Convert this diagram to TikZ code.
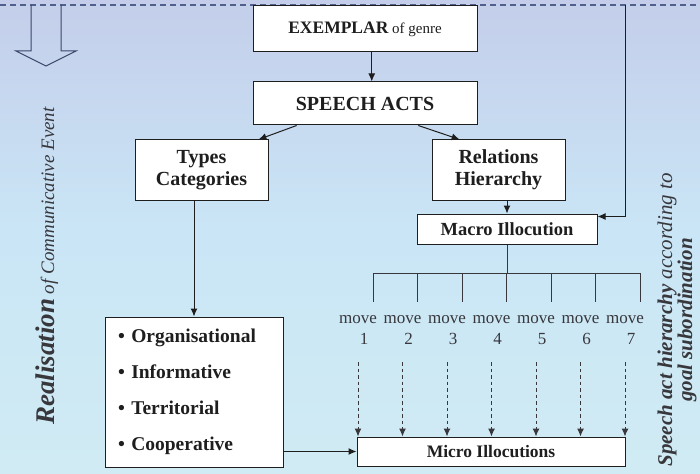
\documentclass[tikz,border=0pt]{standalone}
\usepackage{fontspec}
\setmainfont{Liberation Serif}
\usetikzlibrary{arrows.meta,calc}
\definecolor{bgtop}{RGB}{196,206,234}
\definecolor{bgmid}{RGB}{202,230,246}
\definecolor{bgbot}{RGB}{208,235,243}
\definecolor{dashc}{RGB}{80,95,140}
\definecolor{arrc}{RGB}{60,70,105}
\definecolor{inkc}{RGB}{30,30,30}
\definecolor{softc}{RGB}{55,55,60}
\begin{document}
\begin{tikzpicture}[x=1pt,y=-1pt,
  box/.style={draw=inkc, fill=white, line width=1pt, inner sep=0pt, align=center, text=inkc},
  conn/.style={draw=inkc, line width=1pt, -{Latex[length=8pt,width=7pt]}},
  dashconn/.style={draw=softc, line width=1pt, dash pattern=on 3.5pt off 3pt, -{Latex[length=8pt,width=7pt]}},
  treeline/.style={draw=softc, line width=1pt},
  movefont/.style={inner sep=0pt, text=softc, font=\fontsize{17}{19}\selectfont},
  sidetext/.style={inner sep=0pt, text=softc}]
\shade[top color=bgtop, bottom color=bgbot, middle color=bgmid] (0,0) rectangle (700,473);
\useasboundingbox (0,0) rectangle (700,473);
% top dashed line
\coordinate (dl) at (0,5);
\coordinate (dr) at (700,5);
\draw[dashc, line width=1.2pt, dash pattern=on 6pt off 4pt] (dl) -- (dr);
% hollow block arrow
\draw[arrc, line width=1pt, line join=miter] (31,5) -- (31,51) -- (16,51) -- (46,66) -- (76,51) -- (61,51) -- (61,5);
% boxes
\node[box, minimum width=224, minimum height=46] (ex) at (365,29)
  {{\fontsize{17.5}{20}\selectfont\bfseries EXEMPLAR}{\fontsize{15}{18}\selectfont{} of genre}};
\node[box, minimum width=224, minimum height=43, font=\fontsize{20}{22}\selectfont\bfseries] (sa) at (365,103.5) {SPEECH ACTS};
\node[box, minimum width=133, minimum height=60, font=\fontsize{20}{22}\selectfont\bfseries] (tc) at (201.5,170) {Types\\Categories};
\node[box, minimum width=133, minimum height=60, font=\fontsize{20}{22}\selectfont\bfseries] (rh) at (498.5,170) {Relations\\Hierarchy};
\node[box, minimum width=180, minimum height=30, font=\fontsize{18.5}{20}\selectfont\bfseries] (mac) at (507,229) {Macro Illocution};
\node[box, minimum width=178, minimum height=150, text width=152, align=left, font=\fontsize{19.5}{36}\selectfont\bfseries] (lb) at (194,392)
  {\textbullet\ Organisational\\\textbullet\ Informative\\\textbullet\ Territorial\\\textbullet\ Cooperative};
\node[box, minimum width=268, minimum height=29, font=\fontsize{17.5}{19}\selectfont\bfseries] (mic) at (491,451.5) {Micro Illocutions};
% connectors
\draw[conn] ($(ex.south west)!0.53!(ex.south east)$) -- ($(sa.north west)!0.53!(sa.north east)$);
\draw[conn] ($(sa.south west)!0.196!(sa.south east)$) -- ($(tc.north west)!0.925!(tc.north east)$);
\draw[conn] ($(sa.south west)!0.737!(sa.south east)$) -- ($(rh.north west)!0.21!(rh.north east)$);
\draw[conn] (rh.south -| mac.north) -- (mac.north);
\draw[conn] (tc.south -| lb.north) -- (lb.north);
\draw[conn] (mic.west -| lb.east) -- (mic.west);
\coordinate (fb) at (625,5);
\draw[conn] (fb) |- ($(mac.north east)+(0,3)$);
% tree
\coordinate (bL) at (373,273);
\coordinate (bR) at (640,273);
\draw[treeline] (mac.south) -- (mac.south |- bL);
\draw[treeline] (bL) -- (bR);
\foreach \i in {1,...,7} {
  \pgfmathsetmacro\tx{373+44.5*(\i-1)}
  \coordinate (t\i) at (\tx,273);
  \draw[treeline] (t\i) -- ++(0,29);
  \pgfmathsetmacro\mx{358+44.5*(\i-1)}
  \node[movefont] (m\i) at (\mx,320) {move};
  \node[movefont] (n\i) at (\mx+6,339) {\i};
  \coordinate (d\i) at (\mx,362);
  \draw[dashconn] (d\i) -- (d\i |- mic.north);
}
% side texts
\node[sidetext, rotate=90, anchor=base west] (lt) at (54,425)
  {{\fontsize{27}{30}\selectfont\bfseries\itshape Realisation}{\fontsize{19}{22}\selectfont\itshape{} of Communicative Event}};
\node[sidetext, rotate=90, align=center, font=\fontsize{21}{18}\selectfont] (rt) at (677,320)
  {{\bfseries\itshape Speech act hierarchy}\itshape{} according to\\{\bfseries\itshape goal subordination}};
\end{tikzpicture}
\end{document}
